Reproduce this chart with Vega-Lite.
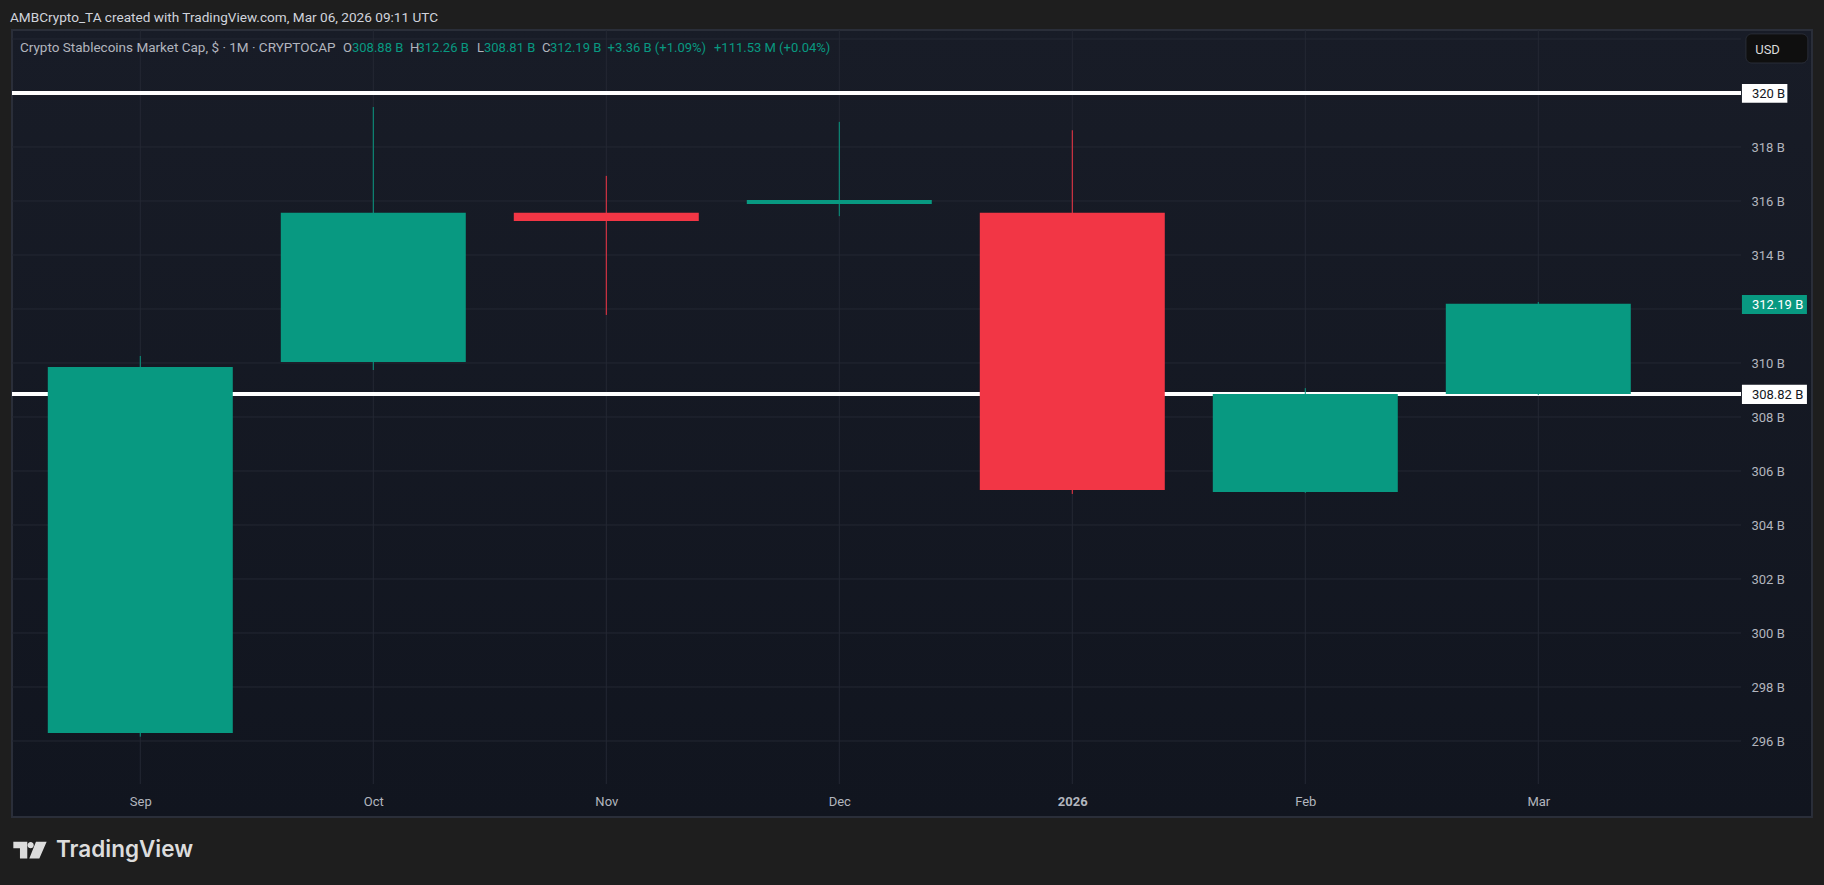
{
"$schema":"https://vega.github.io/schema/vega-lite/v6.json",
"width":1729,"height":754,
"padding":{"left":12,"top":30,"right":83,"bottom":101},
"autosize":{"type":"none"},
"background":"#1e1e1e",
"config":{"view":{"stroke":null},"text":{"font":"Roboto","fontSize":13},"axis":{"labelFont":"Roboto","labelFontSize":13}},
"datasets":{
"candles":[
{"month":"Sep","t":0,"open":296.3,"high":310.26,"low":296.16,"close":309.85,"dir":"up"},
{"month":"Oct","t":1,"open":310.04,"high":319.48,"low":309.74,"close":315.56,"dir":"up"},
{"month":"Nov","t":2,"open":315.56,"high":316.93,"low":311.78,"close":315.26,"dir":"down"},
{"month":"Dec","t":3,"open":315.89,"high":318.93,"low":315.44,"close":316.04,"dir":"up"},
{"month":"2026","t":4,"open":315.56,"high":318.62,"low":305.15,"close":305.3,"dir":"down"},
{"month":"Feb","t":5,"open":305.22,"high":309.07,"low":305.19,"close":308.85,"dir":"up"},
{"month":"Mar","t":6,"open":308.85,"high":312.26,"low":308.81,"close":312.19,"dir":"up"}
],
"grid":[{"v":296},{"v":298},{"v":300},{"v":302},{"v":304},{"v":306},{"v":308},{"v":310},{"v":312},{"v":314},{"v":316},{"v":318},{"v":320},{"v":322}],
"levels":[{"v":320},{"v":308.85}],
"one":[{"n":1}]
},
"data":{"name":"candles"},
"layer":[
{"data":{"name":"one"},
 "mark":{"type":"rect","stroke":"#2a2e39","strokeWidth":2,"fill":{"gradient":"linear","x1":0,"y1":0,"x2":0,"y2":1,"stops":[{"offset":0,"color":"#181c27"},{"offset":1,"color":"#11151f"}]}},
 "encoding":{
  "x":{"datum":-0.5506,"type":"quantitative","scale":{"domain":[-0.5506,6.87],"nice":false,"zero":false,"padding":0},
   "axis":{"title":null,"values":[0,1,2,3,4,5,6],"labelExpr":"['Sep','Oct','Nov','Dec','2026','Feb','Mar'][datum.value]","labelFontWeight":{"condition":{"test":"datum.value==4","value":"bold"},"value":"normal"},"labelColor":"#b2b5be","ticks":false,"domain":false,"grid":false,"labelPadding":11,"zindex":1}},
  "x2":{"datum":7.1747},
  "y":{"datum":322.333,"type":"quantitative","scale":{"domain":[294.407,322.333],"nice":false,"zero":false,"padding":0},
   "axis":{"title":null,"orient":"right","values":[296,298,300,302,304,306,308,310,314,316,318],"labelExpr":"datum.value+' B'","labelColor":"#b2b5be","ticks":false,"domain":false,"grid":false,"labelPadding":10,"labelOffset":1,"zindex":1}},
  "y2":{"datum":293.185}}},
{"data":{"name":"grid"},"mark":{"type":"rule","color":"#242833","strokeWidth":1},
 "encoding":{"y":{"field":"v","type":"quantitative"},"x":{"datum":-0.5506},"x2":{"datum":6.87}}},
{"mark":{"type":"rule","color":"#242833","strokeWidth":1},
 "encoding":{"x":{"field":"t","type":"quantitative"},"y":{"datum":322.333},"y2":{"datum":294.407}}},
{"data":{"name":"levels"},"mark":{"type":"rule","color":"#ffffff","strokeWidth":4},
 "encoding":{"y":{"field":"v","type":"quantitative"},"x":{"datum":-0.5506},"x2":{"datum":6.87}}},
{"mark":{"type":"rule","strokeWidth":1},
 "encoding":{"x":{"field":"t","type":"quantitative"},"y":{"field":"low","type":"quantitative"},"y2":{"field":"high"},
  "color":{"field":"dir","type":"nominal","scale":{"domain":["up","down"],"range":["#089981","#f23645"]},"legend":null}}},
{"mark":{"type":"bar","width":185},
 "encoding":{"x":{"field":"t","type":"quantitative"},"y":{"field":"open","type":"quantitative"},"y2":{"field":"close"},
  "color":{"field":"dir","type":"nominal","legend":null}}},
{"data":{"name":"one"},"mark":{"type":"rect","fill":"#ffffff"},"encoding":{"x":{"datum":6.874},"x2":{"datum":7.069},"y":{"datum":320.33},"y2":{"datum":319.64}}},
{"data":{"name":"one"},"mark":{"type":"rect","fill":"#089981"},"encoding":{"x":{"datum":6.874},"x2":{"datum":7.153},"y":{"datum":312.52},"y2":{"datum":311.81}}},
{"data":{"name":"one"},"mark":{"type":"rect","fill":"#ffffff"},"encoding":{"x":{"datum":6.874},"x2":{"datum":7.153},"y":{"datum":309.19},"y2":{"datum":308.48}}},
{"data":{"name":"one"},"mark":{"type":"rect","fill":"#0f0f0f","stroke":"#2a2e39","strokeWidth":1,"cornerRadius":6},"encoding":{"x":{"datum":6.891},"x2":{"datum":7.157},"y":{"datum":322.19},"y2":{"datum":321.11}}},
{"data":{"name":"one"},"mark":{"type":"text","align":"left","baseline":"middle","color":"#131722"},"encoding":{"x":{"datum":6.917},"y":{"datum":319.95},"text":{"value":"320 B"}}},
{"data":{"name":"one"},"mark":{"type":"text","align":"left","baseline":"middle","color":"#ffffff"},"encoding":{"x":{"datum":6.917},"y":{"datum":312.14},"text":{"value":"312.19 B"}}},
{"data":{"name":"one"},"mark":{"type":"text","align":"left","baseline":"middle","color":"#131722"},"encoding":{"x":{"datum":6.917},"y":{"datum":308.8},"text":{"value":"308.82 B"}}},
{"data":{"name":"one"},"mark":{"type":"text","align":"center","baseline":"middle","color":"#dbdbdb"},"encoding":{"x":{"datum":6.984},"y":{"datum":321.6},"text":{"value":"USD"}}},
{"data":{"name":"one"},"mark":{"type":"text","align":"left","baseline":"middle","color":"#d1d4dc","fontSize":13.6},"encoding":{"x":{"datum":-0.5592},"y":{"datum":322.77},"text":{"value":"AMBCrypto_TA created with TradingView.com, Mar 06, 2026 09:11 UTC"}}},
{"data":{"name":"one"},"mark":{"type":"text","align":"left","baseline":"middle","color":"#b2b5be","fontSize":13.5},"encoding":{"x":{"datum":-0.5163},"y":{"datum":321.65},"text":{"value":"Crypto Stablecoins Market Cap, $ · 1M · CRYPTOCAP"}}},
{"data":{"name":"one"},"mark":{"type":"text","align":"left","baseline":"middle","color":"#b2b5be"},"encoding":{"x":{"datum":0.87},"y":{"datum":321.65},"text":{"value":"O"}}},
{"data":{"name":"one"},"mark":{"type":"text","align":"left","baseline":"middle","color":"#089981"},"encoding":{"x":{"datum":0.9086},"y":{"datum":321.65},"text":{"value":"308.88 B"}}},
{"data":{"name":"one"},"mark":{"type":"text","align":"left","baseline":"middle","color":"#b2b5be"},"encoding":{"x":{"datum":1.1575},"y":{"datum":321.65},"text":{"value":"H"}}},
{"data":{"name":"one"},"mark":{"type":"text","align":"left","baseline":"middle","color":"#089981"},"encoding":{"x":{"datum":1.1897},"y":{"datum":321.65},"text":{"value":"312.26 B"}}},
{"data":{"name":"one"},"mark":{"type":"text","align":"left","baseline":"middle","color":"#b2b5be"},"encoding":{"x":{"datum":1.4451},"y":{"datum":321.65},"text":{"value":"L"}}},
{"data":{"name":"one"},"mark":{"type":"text","align":"left","baseline":"middle","color":"#089981"},"encoding":{"x":{"datum":1.4751},"y":{"datum":321.65},"text":{"value":"308.81 B"}}},
{"data":{"name":"one"},"mark":{"type":"text","align":"left","baseline":"middle","color":"#b2b5be"},"encoding":{"x":{"datum":1.7241},"y":{"datum":321.65},"text":{"value":"C"}}},
{"data":{"name":"one"},"mark":{"type":"text","align":"left","baseline":"middle","color":"#089981"},"encoding":{"x":{"datum":1.7584},"y":{"datum":321.65},"text":{"value":"312.19 B"}}},
{"data":{"name":"one"},"mark":{"type":"text","align":"left","baseline":"middle","color":"#089981"},"encoding":{"x":{"datum":2.0056},"y":{"datum":321.65},"text":{"value":"+3.36 B (+1.09%)"}}},
{"data":{"name":"one"},"mark":{"type":"text","align":"left","baseline":"middle","color":"#089981"},"encoding":{"x":{"datum":2.4622},"y":{"datum":321.65},"text":{"value":"+111.53 M (+0.04%)"}}},
{"data":{"name":"one"},"mark":{"type":"point","filled":true,"opacity":1,"color":"#dcdcdc","size":1156,"shape":"M-0.98,-0.49L-0.16,-0.49L-0.16,0.49L-0.59,0.49L-0.59,-0.1L-0.98,-0.1Z M0.22,-0.29A0.18,0.18,0,1,1,-0.14,-0.29A0.18,0.18,0,1,1,0.22,-0.29Z M0.35,-0.49L0.98,-0.49L0.55,0.49L-0.04,0.49Z"},"encoding":{"x":{"datum":-0.4734},"y":{"datum":291.96}}},
{"data":{"name":"one"},"mark":{"type":"text","align":"left","baseline":"middle","color":"#dcdcdc","font":"Inter","fontSize":22.5,"fontWeight":600},"encoding":{"x":{"datum":-0.3618},"y":{"datum":291.96},"text":{"value":"TradingView"}}}
]
}
